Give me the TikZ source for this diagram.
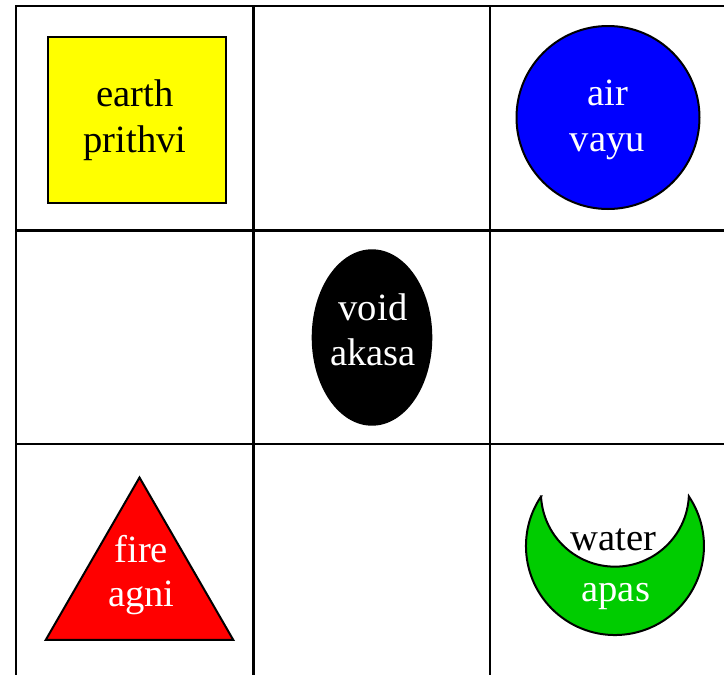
\documentclass[tikz,border=0pt]{standalone}
\usepackage{fontspec}
\setmainfont{Liberation Serif}
\usetikzlibrary{shapes.geometric}
\definecolor{earthyellow}{RGB}{255,255,0}
\definecolor{airblue}{RGB}{0,0,255}
\definecolor{firered}{RGB}{255,0,0}
\definecolor{watergreen}{RGB}{0,204,0}
\tikzset{
  gridline/.style={line width=2.2pt, line cap=rect},
  shapebox/.style={draw=black, line width=2pt, inner sep=0pt, outer sep=0pt},
  lbl/.style={anchor=base, inner sep=0pt, outer sep=0pt,
              font=\fontsize{38.6}{46}\selectfont},
}
\begin{document}
\begin{tikzpicture}[x=1pt, y=-1pt]
  \useasboundingbox (0,0) rectangle (724,675);
  \begin{scope}
    \clip (0,0) rectangle (724,675);
    % table rules
    \foreach \gx in {16,253.5,490}
      \draw[gridline] (\gx,6) -- (\gx,690);
    \foreach \gy in {6,230.5,444}
      \draw[gridline] (16,\gy) -- (740,\gy);
  \end{scope}

  % earth: yellow square
  \node[shapebox, rectangle, fill=earthyellow, minimum width=178pt, minimum height=166pt]
    (earth) at (137,120) {};
  \node[lbl] (earthA) at (135,106) {earth};
  \node[lbl] (earthB) at (135,152) {prithvi};

  % air: blue circle
  \node[shapebox, circle, fill=airblue, minimum size=183pt] (air) at (608,117.5) {};
  \node[lbl, text=white] (airA) at (607.5,105) {air};
  \node[lbl, text=white] (airB) at (607.5,151.7) {vayu};

  % void: black ellipse
  \node[ellipse, fill=black, inner sep=0pt, outer sep=0pt,
        minimum width=120.6pt, minimum height=176.4pt] (void) at (372,337.5) {};
  \node[lbl, text=white] (voidA) at (373,320) {void};
  \node[lbl, text=white] (voidB) at (373,365.7) {akasa};

  % fire: red triangle
  \node[shapebox, regular polygon, regular polygon sides=3, fill=firered,
        minimum size=216.6pt] (fire) at (139.5,585.8) {};
  \node[lbl, text=white] (fireA) at (141.3,562.7) {fire};
  \node[lbl, text=white] (fireB) at (141.3,606.7) {agni};

  % water: green crescent
  \coordinate (hornL) at (541.1,496.4);
  \filldraw[fill=watergreen, draw=black, line width=2pt, line join=miter]
    (hornL) arc[start angle=213.9, end angle=-33.9, radius=89]
            arc[start angle=2.9, end angle=177.1, radius=74] -- cycle;
  \node[lbl] (waterA) at (613.5,550) {water};
  \node[lbl, text=white] (waterB) at (615.8,601.7) {apas};
\end{tikzpicture}
\end{document}
